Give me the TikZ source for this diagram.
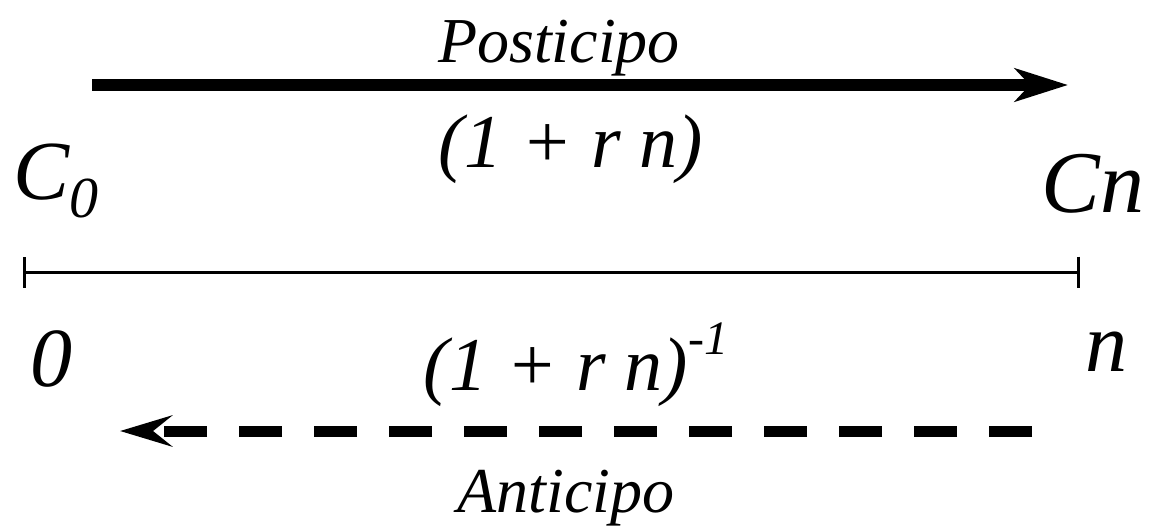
\documentclass[tikz,border=0pt]{standalone}
\usepackage{fontspec}
\setmainfont{Liberation Serif}[ItalicFont={Liberation Serif Italic}]
\newfontfamily\timesit{Liberation Serif Italic}
\usetikzlibrary{arrows.meta}

\begin{document}
\begin{tikzpicture}[x=0.5pt, y=-0.5pt,
    every node/.style={inner sep=0pt, anchor=base},
    word/.style={font=\timesit\fontsize{32}{38}\selectfont},
    factor/.style={font=\timesit\fontsize{38}{44}\selectfont},
    endlabel/.style={font=\timesit\fontsize{42}{48}\selectfont}]
    \useasboundingbox (0,0) rectangle (1155,526);

    % Draw end points
    \coordinate (p0) at (92,85);
    \coordinate (p1) at (1068,85);
    \coordinate (a0) at (1032,431);
    \coordinate (a1) at (120,431);
    \coordinate (t0) at (23,272);
    \coordinate (t1) at (1080,272);

    % Draw connections
    \draw[line width=6pt, -{Stealth[length=26.5pt, width=16.5pt, inset=7.5pt]}] (p0) -- (p1);
    \draw[line width=1.5pt, {Bar[width=15.5pt]}-{Bar[width=15.5pt]}] (t0) -- (t1);
    \draw[line width=5.5pt, dash pattern=on 21.5pt off 16pt,
        -{Stealth[length=26pt, width=15.5pt, inset=9.5pt]}] (a0) -- (a1);

    % Labels
    \node[word] (post) at (559,62) {Posticipo};
    \node[factor] (fac) at (571,167) {(1 + r n)};
    \node[endlabel, anchor=base west] (c0) at (13,199) {C\raisebox{-9pt}{\fontsize{29}{32}\selectfont 0}};
    \node[endlabel, font=\timesit\fontsize{44}{50}\selectfont, anchor=base east] (cn) at (1145,212) {Cn};
    \node[endlabel, anchor=base west] (zero) at (30,386) {0};
    \node[endlabel, anchor=base west] (nn) at (1085,371) {n};
    \node[factor] (inv) at (576,390) {(1 + r n)\raisebox{18pt}{\fontsize{24}{27}\selectfont -1}};
    \node[word] (anti) at (566,512) {Anticipo};
\end{tikzpicture}
\end{document}
